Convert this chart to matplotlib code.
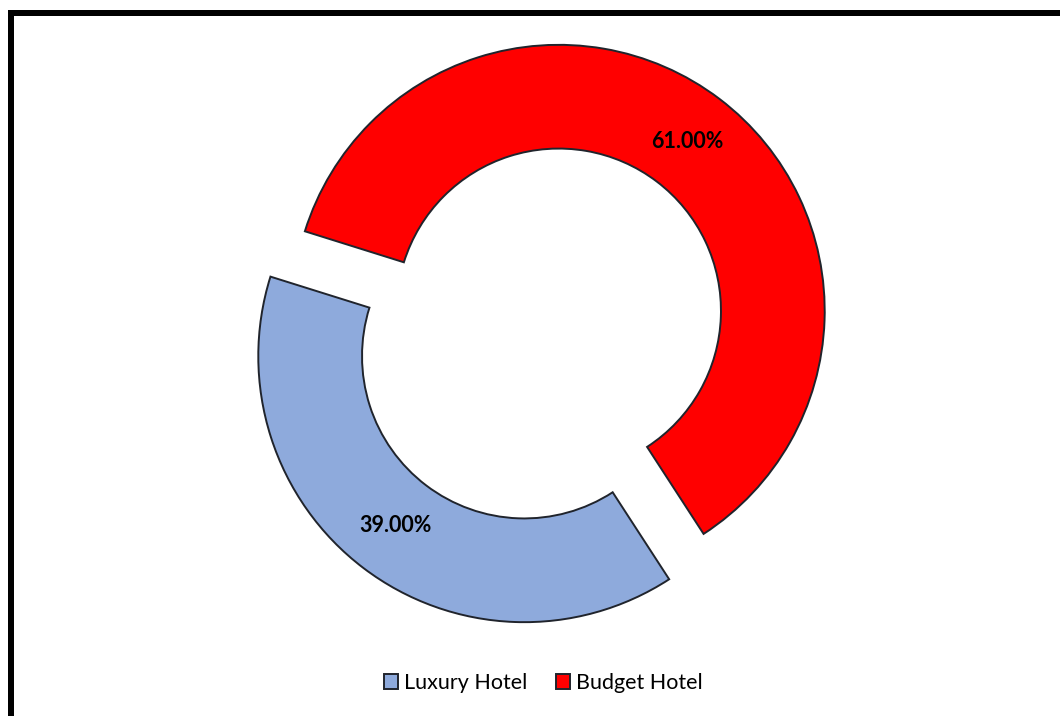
import matplotlib
matplotlib.use("Agg")
import matplotlib.pyplot as plt
from matplotlib.lines import Line2D

# Share of hotel bookings by type
categories = ["Luxury Hotel", "Budget Hotel"]
shares = [39.0, 61.0]
colors = ["#8eaadc", "#ff0000"]

W, H, DPI = 1060, 716, 100
fig = plt.figure(figsize=(W / DPI, H / DPI), dpi=DPI)
fig.patch.set_facecolor("white")

ax = fig.add_axes([0, 0, 1, 1])

wedges, texts, autotexts = ax.pie(
    shares,
    colors=colors,
    startangle=-57,
    counterclock=False,
    explode=[0.107, 0.107],
    radius=1.0,
    autopct="%.2f%%",
    pctdistance=0.8,
    wedgeprops=dict(width=0.39, edgecolor="#20242c", linewidth=1.4),
    textprops=dict(fontsize=15.5, fontweight="bold", color="black", family="Lato"),
)

# Place the ring: 1 data unit = 266 px, centre at (541.5, 333.5) px from top-left
scale = 266.0
cx, cy = 541.5, 333.5
ax.set_aspect("auto")
ax.set_xlim(-cx / scale, (W - cx) / scale)
ax.set_ylim(-(H - cy) / scale, cy / scale)
ax.axis("off")

# Legend along the bottom
fig.legend(
    wedges,
    categories,
    loc="center",
    bbox_to_anchor=(543 / W, (H - 683) / H),
    ncol=2,
    frameon=False,
    prop=dict(family="Lato", size=15.5),
    handlelength=0.65,
    handleheight=0.65,
    handletextpad=0.28,
    columnspacing=1.35,
)

# Chart frame (top and left edges)
lw = 6 * 72 / DPI
fig.add_artist(Line2D([8 / W, 1.0], [(H - 13) / H] * 2, color="black",
                      linewidth=lw, solid_capstyle="butt", transform=fig.transFigure))
fig.add_artist(Line2D([11 / W] * 2, [0.0, (H - 10) / H], color="black",
                      linewidth=lw, solid_capstyle="butt", transform=fig.transFigure))

fig.savefig("out.png", dpi=DPI, facecolor="white")
